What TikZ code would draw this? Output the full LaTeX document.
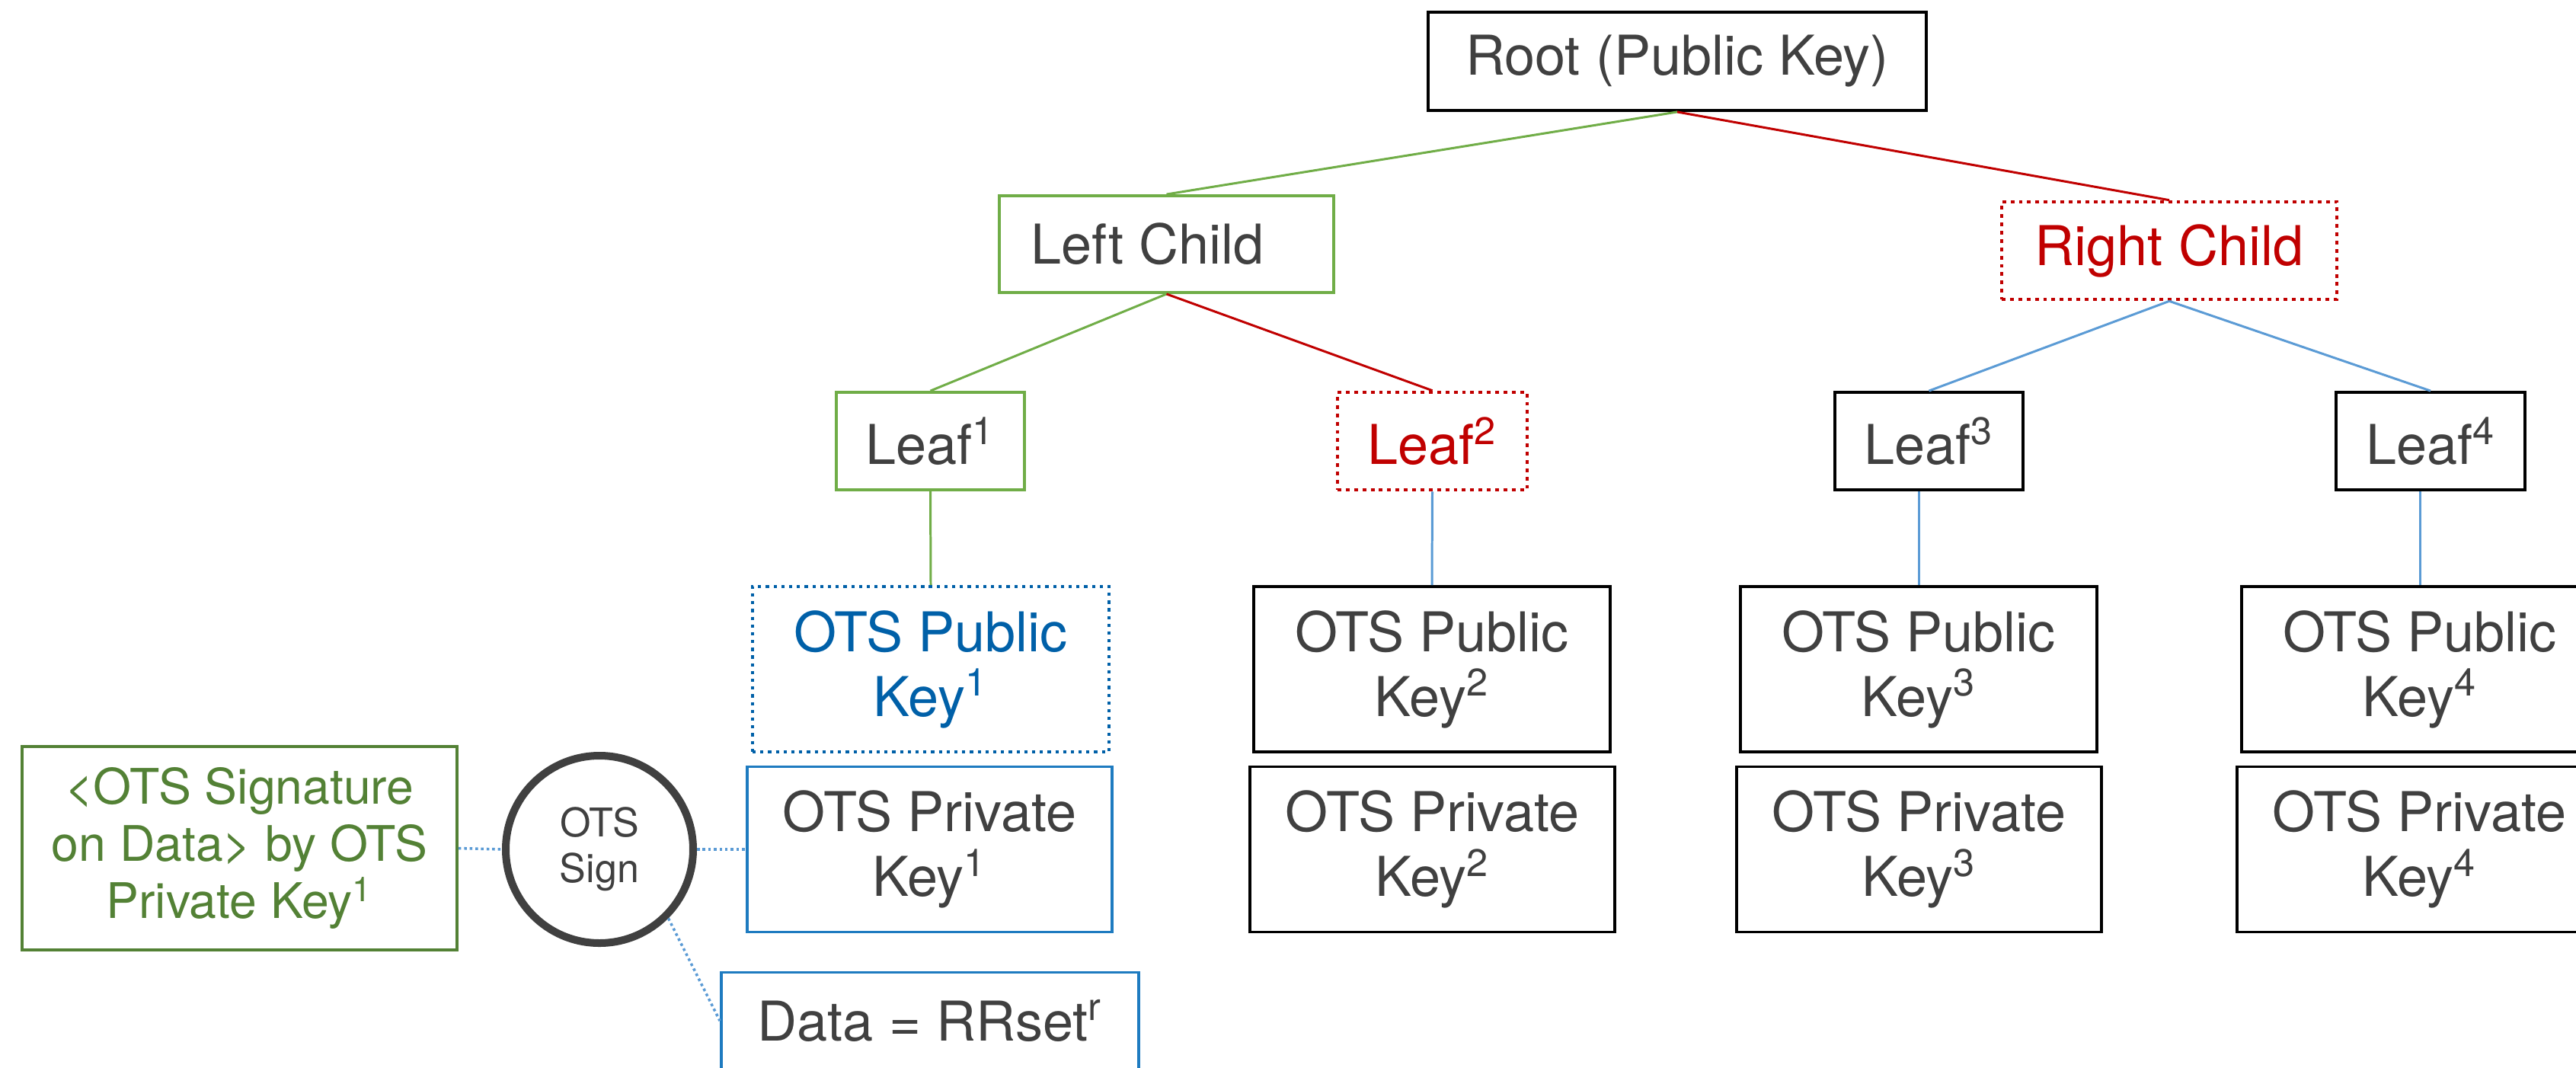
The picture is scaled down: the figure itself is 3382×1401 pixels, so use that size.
\documentclass[tikz,border=0pt]{standalone}
\usepackage{fontspec}
\setmainfont{TeX Gyre Heros}
\usepackage{tikz}
\usetikzlibrary{calc,positioning,shapes}
\definecolor{txtgray}{HTML}{404040}
\definecolor{lgreen}{HTML}{70AD47}
\definecolor{dgreen}{HTML}{538135}
\definecolor{mred}{HTML}{C00000}
\definecolor{lblue}{HTML}{5B9BD5}
\definecolor{mblue}{HTML}{1E7BC0}
\definecolor{dblue}{HTML}{0060A8}
\newcommand{\Key}[1]{Key\textsuperscript{#1}}

\begin{document}
\begin{tikzpicture}[x=0.1mm,y=-0.1mm,
    box/.style={draw=black, rectangle, inner sep=0pt, line width=1.1pt, text=txtgray,
      font=\fontsize{20.5}{24.2}\selectfont},
    reddot/.style={box, draw=mred, text=mred, line width=1.3pt, dash pattern=on 1.4pt off 1.7pt},
    keybox/.style={box, align=center, minimum height=2.17cm},
    link/.style={line width=0.85pt},
    dotlink/.style={lblue, line width=1pt, dash pattern=on 1pt off 1.1pt}]
  \useasboundingbox (0,0) rectangle (3382,1401);

  % tree
  \node[box, minimum width=6.54cm, minimum height=1.29cm] (root) at (2202,80.5) {Root (Public Key)};
  \node[box, draw=lgreen, minimum width=4.39cm, minimum height=1.27cm] (lchild) at (1531.5,320.5) {Left Child\kern5mm};
  \node[reddot, minimum width=4.40cm, minimum height=1.28cm] (rchild) at (2848,329) {Right Child};

  \node[box, draw=lgreen, minimum width=2.47cm, minimum height=1.28cm] (leaf1) at (1221.5,579) {Leaf\textsuperscript{1}};
  \node[reddot, minimum width=2.49cm, minimum height=1.28cm] (leaf2) at (1880.5,579) {Leaf\textsuperscript{2}};
  \node[box, minimum width=2.47cm, minimum height=1.28cm] (leaf3) at (2532.5,579) {Leaf\textsuperscript{3}};
  \node[box, minimum width=2.48cm, minimum height=1.28cm] (leaf4) at (3191,579) {Leaf\textsuperscript{4}};

  \draw[link, lgreen] (root.south) -- (lchild.north);
  \draw[link, mred] (root.south) -- (rchild.north);
  \draw[link, lgreen] (lchild.south) -- (leaf1.north);
  \draw[link, mred] (lchild.south) -- (leaf2.north);
  \draw[link, lblue] (rchild.south) -- (leaf3.north);
  \draw[link, lblue] (rchild.south) -- (leaf4.north);

  % OTS keys
  \node[keybox, draw=dblue, text=dblue, line width=1.2pt, dash pattern=on 1.2pt off 1.7pt,
    minimum width=4.68cm] (pub1) at (1222,878.5) {OTS Public\\\Key{1}};
  \node[keybox, draw=mblue, minimum width=4.79cm] (priv1) at (1220.5,1115) {OTS Private\\\Key{1}};
  \node[keybox, minimum width=4.68cm] (pub2) at (1880,878.5) {OTS Public\\\Key{2}};
  \node[keybox, minimum width=4.79cm] (priv2) at (1880.5,1115) {OTS Private\\\Key{2}};
  \node[keybox, minimum width=4.68cm] (pub3) at (2519,878.5) {OTS Public\\\Key{3}};
  \node[keybox, minimum width=4.79cm] (priv3) at (2519.5,1115) {OTS Private\\\Key{3}};
  \node[keybox, minimum width=4.68cm] (pub4) at (3177,878.5) {OTS Public\\\Key{4}};
  \node[keybox, minimum width=4.79cm] (priv4) at (3176.5,1115) {OTS Private\\\Key{4}};

  \draw[link, lgreen] (leaf1.south) -- (pub1.north);
  \draw[link, lblue] (leaf2.south) -- (pub2.north);
  \draw[link, lblue] (pub3.north) -- (pub3.north |- leaf3.south);
  \draw[link, lblue] (pub4.north) -- (pub4.north |- leaf4.south);

  % signing
  \node[circle, draw=txtgray, line width=2.85pt, minimum size=2.46cm, inner sep=0pt, text=txtgray,
    align=center, font=\fontsize{14.8}{17}\selectfont] (sign) at (787,1115) {OTS\\Sign};
  \node[box, draw=dgreen, text=dgreen, align=center, minimum width=5.71cm, minimum height=2.67cm,
    font=\fontsize{18.3}{21.3}\selectfont] (sig) at (314.5,1113.5)
    {\textless OTS Signature\\on Data\textgreater{} by OTS\\Private \Key{1}};
  \node[box, draw=mblue, minimum width=5.48cm, minimum height=1.27cm] (data) at (1221,1340)
    {Data = RRset\textsuperscript{r}};

  \draw[dotlink] (sig.east) -- (sign.west);
  \draw[dotlink] (sign.east) -- (priv1.west);
  \draw[dotlink] (sign.south east) -- (data.west);
\end{tikzpicture}
\end{document}
